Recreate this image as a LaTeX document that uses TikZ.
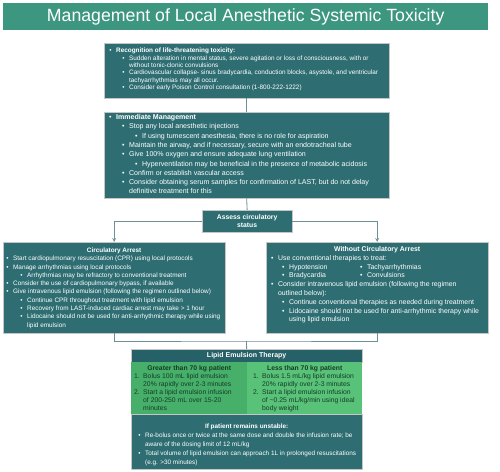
\documentclass[tikz,border=0pt]{standalone}
\usepackage{fontspec}
\setmainfont{Liberation Sans}
\usepackage{tikz}
\usetikzlibrary{arrows}

\definecolor{tealbox}{RGB}{46,110,115}
\definecolor{tealhead}{RGB}{60,150,128}
\definecolor{tealdark}{RGB}{38,97,103}
\definecolor{greenA}{RGB}{70,176,106}
\definecolor{greenB}{RGB}{88,194,120}
\definecolor{greentext}{RGB}{24,58,40}
\definecolor{linkline}{RGB}{105,145,150}

\tikzstyle{banner} = [fill=tealhead, text=white, inner sep=0pt, anchor=north west]
\tikzstyle{panel} = [fill=tealbox, draw=gray!45, line width=0.3pt, text=white, inner sep=0pt, anchor=north west]
\tikzstyle{column} = [draw=none, text=greentext, inner sep=0pt, anchor=north west]
\tikzstyle{link} = [draw=linkline, line width=0.8pt]

% text helpers
\newcommand{\pbox}[4]{\begin{minipage}[c][#2][t]{#1}\vspace*{#3}\raggedright\rightskip=-8pt plus 1fil #4\end{minipage}}
\newcommand{\bl}[2]{\par\leftskip=#1\relax\noindent\llap{\textbullet\hspace{4.5pt}}#2}
\newcommand{\nl}[3]{\par\leftskip=#1\relax\noindent\llap{\makebox[9pt][l]{#2}}#3}
\newcommand{\hd}[1]{\par{\centering\bfseries #1\par}}

\begin{document}
\begin{tikzpicture}[x=1pt, y=-1pt, >=stealth]
\useasboundingbox (0,0) rectangle (500,471);

% title
\node (title) [banner, minimum width=485pt, minimum height=27pt] at (3,3)
  {\fontsize{17.7}{21}\selectfont Management of Local Anesthetic Systemic Toxicity};

% boxes
\node (recog) [panel] at (104,43) {\pbox{285pt}{55pt}{5.2pt}{\fontsize{6.4}{7.3}\selectfont
  \bl{12pt}{\textbf{Recognition of life-threatening toxicity:}}
  \bl{25pt}{Sudden alteration in mental status, severe agitation or loss of consciousness, with or\\ without tonic-clonic convulsions}
  \bl{25pt}{Cardiovascular collapse- sinus bradycardia, conduction blocks, asystole, and ventricular\\ tachyarrhythmias may all occur.}
  \bl{25pt}{Consider early Poison Control consultation (1-800-222-1222)}}};

\node (immed) [panel] at (104,112) {\pbox{285pt}{86pt}{2.3pt}{\fontsize{7.05}{9.3}\selectfont
  \bl{12pt}{\textbf{Immediate Management}}
  \bl{25pt}{Stop any local anesthetic injections}
  \bl{38pt}{If using tumescent anesthesia, there is no role for aspiration}
  \bl{25pt}{Maintain the airway, and if necessary, secure with an endotracheal tube}
  \bl{25pt}{Give 100\% oxygen and ensure adequate lung ventilation}
  \bl{38pt}{Hyperventilation may be beneficial in the presence of metabolic acidosis}
  \bl{25pt}{Confirm or establish vascular access}
  \bl{25pt}{Consider obtaining serum samples for confirmation of LAST, but do not delay\\ definitive treatment for this}}};

\node (assess) [panel, minimum width=90pt, minimum height=22pt, align=center,
  font=\fontsize{6.8}{8.3}\selectfont\bfseries] at (202,210) {Assess circulatory\\status};

\node (arrest) [panel] at (3,242) {\pbox{222pt}{91pt}{5.7pt}{\fontsize{6.4}{8.3}\selectfont
  \hd{Circulatory Arrest}
  \bl{10pt}{Start cardiopulmonary resuscitation (CPR) using local protocols}
  \bl{10pt}{Manage arrhythmias using local protocols}
  \bl{24pt}{Arrhythmias may be refractory to conventional treatment}
  \bl{10pt}{Consider the use of cardiopulmonary bypass, if available}
  \bl{10pt}{Give intravenous lipid emulsion (following the regimen outlined below)}
  \bl{24pt}{Continue CPR throughout treatment with lipid emulsion}
  \bl{24pt}{Recovery from LAST-induced cardiac arrest may take > 1 hour}
  \bl{24pt}{Lidocaine should not be used for anti-arrhythmic therapy while using\\ lipid emulsion}}};

\node (noarrest) [panel] at (266,242) {\pbox{222pt}{91pt}{4.4pt}{\fontsize{6.9}{8.8}\selectfont
  \hd{Without Circulatory Arrest}
  \bl{12pt}{Use conventional therapies to treat:}
  \bl{23pt}{\rlap{Hypotension}\hspace{78pt}\llap{\textbullet\hspace{4.5pt}}Tachyarrhythmias}
  \bl{23pt}{\rlap{Bradycardia}\hspace{78pt}\llap{\textbullet\hspace{4.5pt}}Convulsions}
  \bl{12pt}{Consider intravenous lipid emulsion (following the regimen\\ outlined below):}
  \bl{23pt}{Continue conventional therapies as needed during treatment}
  \bl{23pt}{Lidocaine should not be used for anti-arrhythmic therapy while\\ using lipid emulsion}}};

\node (lipid) [panel, fill=tealdark, minimum width=231pt, minimum height=13pt,
  font=\fontsize{7}{8}\selectfont\bfseries] at (131,349) {Lipid Emulsion Therapy};

\node (heavy) [column, fill=greenA] at (131,362) {\pbox{116pt}{52pt}{3.4pt}{\fontsize{6.8}{7.9}\selectfont
  \hd{Greater than 70 kg patient}
  \nl{12pt}{1.}{Bolus 100 mL lipid emulsion\\ 20\% rapidly over 2-3 minutes}
  \nl{12pt}{2.}{Start a lipid emulsion infusion\\ of 200-250 mL over 15-20\\ minutes}}};

\node (light) [column, fill=greenB] at (247,362) {\pbox{115pt}{52pt}{3.4pt}{\fontsize{6.8}{7.9}\selectfont
  \hd{Less than 70 kg patient}
  \nl{15pt}{1.}{Bolus 1.5 mL/kg lipid emulsion\\ 20\% rapidly over 2-3 minutes}
  \nl{15pt}{2.}{Start a lipid emulsion infusion\\ of \textasciitilde0.25 mL/kg/min using ideal\\ body weight}}};

\node (unstable) [panel] at (131,414) {\pbox{231pt}{55pt}{9.6pt}{\fontsize{6.4}{9}\selectfont
  \hd{If patient remains unstable:}
  \bl{14pt}{Re-bolus once or twice at the same dose and double the infusion rate; be\\ aware of the dosing limit of 12 mL/kg}
  \bl{14pt}{Total volume of lipid emulsion can approach 1L in prolonged resuscitations\\ (e.g. >30 minutes)}}};

% connectors
\coordinate (merge) at (246.5,341);
\path[link] (recog.south) -- (immed.north);
\path[link] (immed.south) -- (assess.north);
\draw[link,->] (assess.west) -| (arrest.north);
\draw[link,->] (assess.east) -| (noarrest.north);
\draw[link] (arrest.south) |- (merge) -| (noarrest.south);
\draw[link] (merge) -- (lipid.north);

\end{tikzpicture}
\end{document}
